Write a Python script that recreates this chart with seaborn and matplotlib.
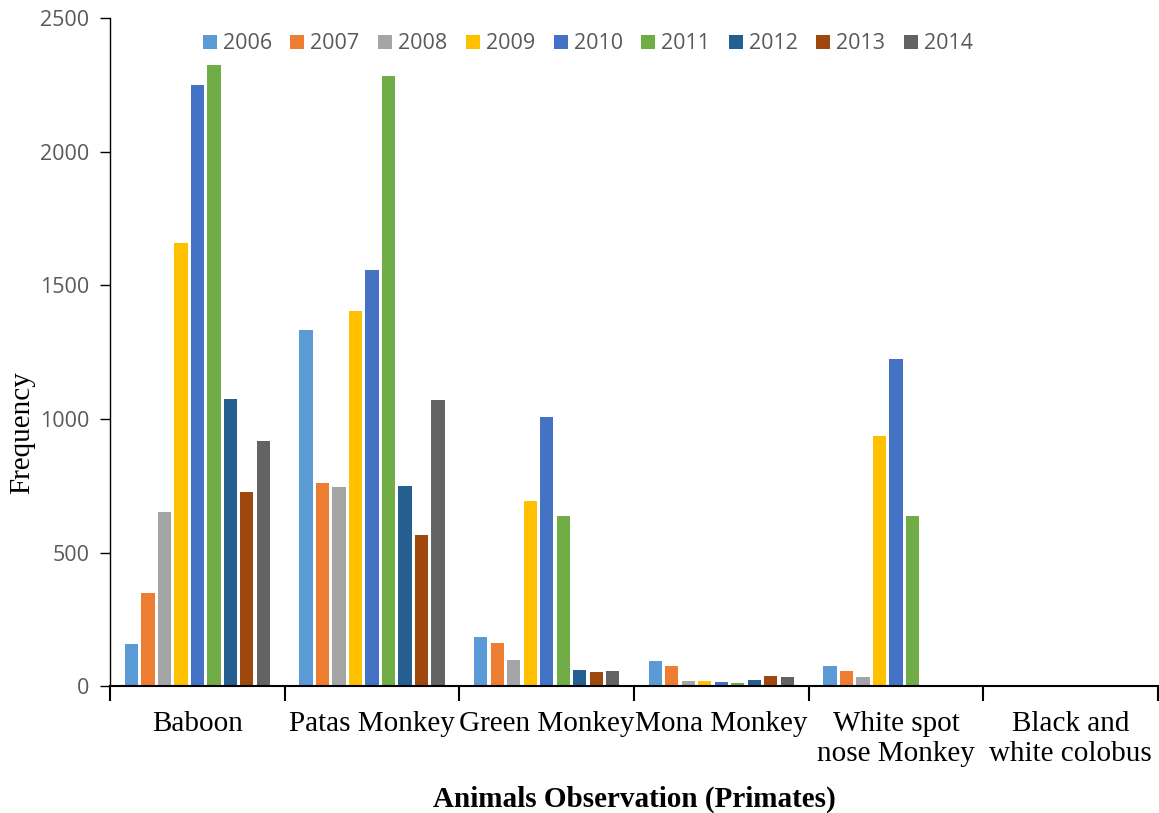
import matplotlib
matplotlib.use("Agg")
import matplotlib.pyplot as plt
import seaborn as sns
import pandas as pd
from matplotlib.ticker import FixedLocator, NullFormatter

# Primate sightings per year
animals = ["Baboon", "Patas Monkey", "Green Monkey", "Mona Monkey",
           "White spot\nnose Monkey", "Black and\nwhite colobus"]
years = ["2006", "2007", "2008", "2009", "2010", "2011", "2012", "2013", "2014"]

counts_2006 = [157, 1332, 184, 96, 74, 0]
counts_2007 = [348, 760, 161, 74, 55, 0]
counts_2008 = [651, 745, 97, 21, 33, 0]
counts_2009 = [1658, 1403, 692, 19, 937, 0]
counts_2010 = [2249, 1557, 1007, 16, 1223, 0]
counts_2011 = [2324, 2283, 636, 10, 638, 0]
counts_2012 = [1074, 748, 61, 24, 0, 0]
counts_2013 = [726, 565, 52, 39, 0, 0]
counts_2014 = [917, 1070, 56, 34, 0, 0]

series = [counts_2006, counts_2007, counts_2008, counts_2009, counts_2010,
          counts_2011, counts_2012, counts_2013, counts_2014]

palette = ["#5B9BD5", "#ED7D31", "#A5A5A5", "#FFC000", "#4472C4",
           "#70AD47", "#255E91", "#9E480E", "#636363"]

rows = []
for yr, vals in zip(years, series):
    for animal, v in zip(animals, vals):
        rows.append({"Animal": animal, "Year": yr, "Count": v})
df = pd.DataFrame(rows)

sns.set_style("white")
fig = plt.figure(figsize=(11.59, 8.13), dpi=100)
ax = fig.add_axes([0.095, 0.156, 0.904, 0.822])

sns.barplot(data=df, x="Animal", y="Count", hue="Year", order=animals,
            hue_order=years, palette=palette, saturation=1, width=0.85,
            gap=0.2, edgecolor="none", linewidth=0, ax=ax)

ax.set_xlim(-0.5, len(animals) - 0.5)
ax.set_ylim(0, 2500)
ax.set_yticks([0, 500, 1000, 1500, 2000, 2500])
for lbl in ax.get_yticklabels():
    lbl.set_fontfamily("Open Sans")
    lbl.set_fontsize(15.5)
    lbl.set_color("#595959")
ax.tick_params(axis="y", length=7, width=1, color="black", direction="out",
               left=True, pad=8)

# category labels centred, boundary ticks between groups
ax.tick_params(axis="x", which="major", length=0, pad=18)
ax.set_xticks(range(len(animals)))
ax.set_xticklabels(animals, fontfamily="Liberation Serif", fontsize=21,
                   color="black", linespacing=1.2)
ax.xaxis.set_minor_locator(FixedLocator([i - 0.5 for i in range(len(animals) + 1)]))
ax.xaxis.set_minor_formatter(NullFormatter())
ax.tick_params(axis="x", which="minor", length=11, width=1.5, color="black",
               direction="out", bottom=True)

for side in ["top", "right"]:
    ax.spines[side].set_visible(False)
ax.spines["left"].set_color("black")
ax.spines["left"].set_linewidth(1)
ax.spines["bottom"].set_color("black")
ax.spines["bottom"].set_linewidth(1.5)

ax.set_ylabel("Frequency", fontfamily="Liberation Serif", fontsize=21,
              color="black")
ax.yaxis.label.set_verticalalignment("center")
ax.yaxis.set_label_coords(-0.084, 0.379)
ax.set_xlabel("Animals Observation (Primates)", fontfamily="Liberation Serif",
              fontsize=21, fontweight="bold", color="black", labelpad=13)

leg = ax.legend(loc="center", bbox_to_anchor=(0.456, 0.961), ncol=9,
                frameon=False, handlelength=0.65, handleheight=0.65,
                handletextpad=0.28, columnspacing=0.86,
                prop={"family": "Open Sans", "size": 15.5})
for t in leg.get_texts():
    t.set_color("#595959")

fig.savefig("out.png", dpi=100)
